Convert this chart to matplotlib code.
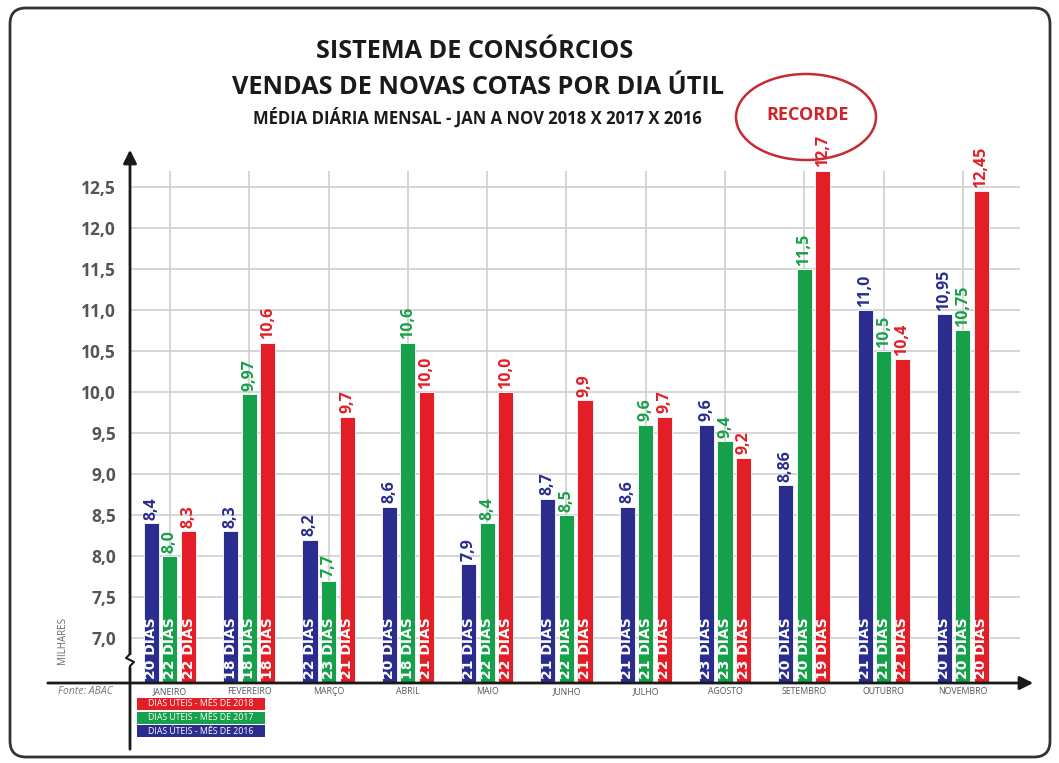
import matplotlib
matplotlib.use('Agg')
import matplotlib.pyplot as plt
from matplotlib.patches import FancyBboxPatch, Ellipse, Rectangle, FancyArrowPatch
from matplotlib.lines import Line2D
import numpy as np

plt.rcParams['font.family'] = ['Open Sans', 'DejaVu Sans']

months = ["JANEIRO", "FEVEREIRO", "MARÇO", "ABRIL", "MAIO", "JUNHO",
          "JULHO", "AGOSTO", "SETEMBRO", "OUTUBRO", "NOVEMBRO"]
v2016 = [8.4, 8.3, 8.2, 8.6, 7.9, 8.7, 8.6, 9.6, 8.86, 11.0, 10.95]
v2017 = [8.0, 9.97, 7.7, 10.6, 8.4, 8.5, 9.6, 9.4, 11.5, 10.5, 10.75]
v2018 = [8.3, 10.6, 9.7, 10.0, 10.0, 9.9, 9.7, 9.2, 12.7, 10.4, 12.45]
lab2016 = ["8,4", "8,3", "8,2", "8,6", "7,9", "8,7", "8,6", "9,6", "8,86", "11,0", "10,95"]
lab2017 = ["8,0", "9,97", "7,7", "10,6", "8,4", "8,5", "9,6", "9,4", "11,5", "10,5", "10,75"]
lab2018 = ["8,3", "10,6", "9,7", "10,0", "10,0", "9,9", "9,7", "9,2", "12,7", "10,4", "12,45"]
dias2016 = [20, 18, 22, 20, 21, 21, 21, 23, 20, 21, 20]
dias2017 = [22, 18, 23, 18, 22, 22, 21, 23, 20, 21, 20]
dias2018 = [22, 18, 21, 21, 22, 21, 22, 23, 19, 22, 20]
yticks = [7.0, 7.5, 8.0, 8.5, 9.0, 9.5, 10.0, 10.5, 11.0, 11.5, 12.0, 12.5]
ytick_labels = ["7,0", "7,5", "8,0", "8,5", "9,0", "9,5", "10,0", "10,5", "11,0", "11,5", "12,0", "12,5"]
legend_labels = ["DIAS ÚTEIS - MÊS DE 2018", "DIAS ÚTEIS - MÊS DE 2017", "DIAS ÚTEIS - MÊS DE 2016"]

BLUE = '#2B2D8E'
GREEN = '#17A04A'
RED = '#E41E26'

W, H = 1059, 763
fig = plt.figure(figsize=(W / 100, H / 100), dpi=100)
fig.patch.set_facecolor('white')
T = fig.dpi_scale_trans


def P(x, y):
    return (x / 100, (H - y) / 100)


ax = fig.add_axes([130 / W, 1 - 683 / H, (1020 - 130) / W, (683 - 171) / H])
ax.set_xlim(-0.504, 10.72)
ax.set_ylim(6.45, 12.695)
for s in ax.spines.values():
    s.set_visible(False)

x = np.arange(len(months))
ax.set_yticks(yticks)
ax.set_yticklabels(ytick_labels, fontsize=12.5, fontweight='bold', color='#555555')
ax.tick_params(axis='y', length=0, pad=10)
ax.set_xticks(x)
ax.set_xticklabels(months, fontsize=6.3, color='#555555')
ax.tick_params(axis='x', length=0, pad=3)

for yv in yticks:
    ax.axhline(yv, color='#cccccc', lw=1.1, zorder=0)
for xv in x:
    ax.axvline(xv, color='#cccccc', lw=1.1, zorder=0)

step = 0.234
bw = 0.19
series = [(v2016, lab2016, dias2016, BLUE, -step),
          (v2017, lab2017, dias2017, GREEN, 0),
          (v2018, lab2018, dias2018, RED, step)]
for vals, labs, dias, col, off in series:
    ax.bar(x + off, np.array(vals) - 6.45, bottom=6.45, width=bw, color=col,
           edgecolor='white', linewidth=0.6, zorder=2)
    for xi, v, lab, d in zip(x, vals, labs, dias):
        ax.text(xi + off, v + 0.04, lab, rotation=90, ha='center', va='bottom',
                fontsize=11.5, fontweight='bold', color=col, zorder=3, clip_on=False)
        ax.text(xi + off, 6.45 + 0.05, f"{d} DIAS", rotation=90, ha='center', va='bottom',
                fontsize=10, fontweight='bold', color='white', family='DejaVu Sans', zorder=3)

# axes arrows
fig.add_artist(FancyArrowPatch(P(45, 683), P(1036, 683), arrowstyle='-|>', mutation_scale=20,
                               lw=2, color='#1a1a1a', transform=T))
fig.add_artist(FancyArrowPatch(P(130, 752), P(130, 147), arrowstyle='-|>', mutation_scale=20,
                               lw=2, color='#1a1a1a', transform=T))
# break mark
fig.add_artist(Rectangle(P(126, 667), 0.08, 0.12, facecolor='white', edgecolor='none', transform=T, zorder=5))
bx = [130, 130, 126, 134, 130, 130]
by = [648, 654, 658, 662, 666, 672]
fig.add_artist(Line2D([b / 100 for b in bx], [(H - b) / 100 for b in by], color='#1a1a1a', lw=1.5,
                      transform=T, zorder=6))

# border
fig.add_artist(FancyBboxPatch((0.10, (H - 757) / 100), 10.40, 7.49,
                              boxstyle='round,pad=0,rounding_size=0.16', facecolor='none',
                              edgecolor='#333333', lw=2, transform=T))

# titles
fig.text(*P(475, 52), "SISTEMA DE CONSÓRCIOS", transform=T, ha='center', va='center',
         fontsize=18.2, fontweight='bold', color='#1a1a1a')
fig.text(*P(478, 88), "VENDAS DE NOVAS COTAS POR DIA ÚTIL", transform=T, ha='center', va='center',
         fontsize=18.2, fontweight='bold', color='#1a1a1a')
fig.text(*P(477, 118), "MÉDIA DIÁRIA MENSAL - JAN A NOV 2018 X 2017 X 2016", transform=T,
         ha='center', va='center', fontsize=12, fontweight='bold', color='#1a1a1a')

# recorde
fig.add_artist(Ellipse(P(806, 117), 1.40, 0.86, facecolor='none', edgecolor='#C62B33', lw=1.8,
                       transform=T))
fig.text(*P(808, 115), "RECORDE", transform=T, ha='center', va='center', fontsize=13,
         fontweight='bold', color='#D2232A')

# ylabel and source
fig.text(*P(62, 640), "MILHARES", transform=T, ha='center', va='center', rotation=90,
         fontsize=7, color='#666666')
fig.text(*P(85, 692), "Fonte: ABAC", transform=T, ha='center', va='center',
         fontsize=7.5, style='italic', color='#777777')

# legend boxes
for lab, col, yc in zip(legend_labels, [RED, GREEN, BLUE], [704, 718, 731]):
    fig.add_artist(Rectangle(P(137, yc + 6), 1.28, 0.12, facecolor=col, edgecolor='none', transform=T))
    fig.text(*P(201, yc), lab, transform=T, ha='center', va='center', fontsize=6.3,
             color='white')

fig.savefig('out.png', dpi=100)
